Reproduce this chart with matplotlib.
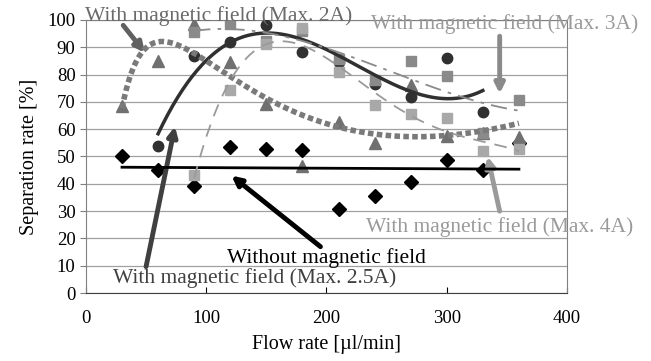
import numpy as np
import matplotlib
matplotlib.use('Agg')
import matplotlib.pyplot as plt

plt.rcParams['font.family'] = ['Liberation Serif', 'DejaVu Serif']

# flow rate [ul/min] and separation rate [%]
x_none = [30, 60, 90, 120, 150, 180, 210, 240, 270, 300, 330, 360]
y_none = [50.0, 45.2, 39.1, 53.5, 52.9, 52.3, 30.9, 35.4, 40.7, 48.6, 45.2, 54.8]

x_2a = [30, 60, 90, 120, 150, 180, 210, 240, 270, 300, 330, 360]
y_2a = [68.5, 84.8, 98.5, 84.4, 69.1, 46.7, 62.5, 55.0, 76.1, 57.5, 58.5, 57.0]

x_25a = [60, 90, 120, 150, 180, 210, 240, 270, 300, 330]
y_25a = [53.8, 86.9, 91.8, 98.3, 88.3, 84.4, 76.7, 71.6, 86.0, 66.4]

x_3a = [90, 120, 150, 180, 210, 240, 270, 300, 330, 360]
y_3a = [95.5, 98.5, 92.4, 96.0, 85.6, 78.0, 85.0, 79.5, 58.7, 70.7]

x_4a = [90, 120, 150, 180, 210, 240, 270, 300, 330, 360]
y_4a = [43.4, 74.3, 91.0, 97.0, 80.8, 68.8, 65.4, 64.2, 52.0, 52.6]


def trend(ax, xs, ys, deg, logx=False, **kw):
    # polynomial trendline over the data range (optionally in log x)
    f = np.log if logx else (lambda v: np.asarray(v, float))
    p = np.poly1d(np.polyfit(f(xs), ys, deg))
    xx = np.linspace(min(xs), max(xs), 200)
    ax.plot(xx, p(f(xx)), zorder=4, **kw)


fig = plt.figure(figsize=(6.51, 3.61), dpi=100)
ax = fig.add_axes([0.132, 0.188, 0.739, 0.757])

ax.plot(x_none, y_none, 'D', color='black', ms=7, zorder=3)
ax.plot(x_2a, y_2a, '^', color='#707070', ms=8.5, zorder=3)
ax.plot(x_25a, y_25a, 'o', color='#303030', ms=7.5, zorder=3)
ax.plot(x_3a, y_3a, 's', color='#8a8a8a', ms=7, zorder=3)
ax.plot(x_4a, y_4a, 's', color='#a8a8a8', ms=7, zorder=3)

trend(ax, x_none, y_none, 1, color='black', lw=2)
trend(ax, x_25a, y_25a, 3, color='#303030', lw=2.5)
trend(ax, x_2a, y_2a, 4, logx=True, color='#7a7a7a', lw=4, ls=(0, (1, 0.6)))
trend(ax, x_3a, y_3a, 3, color='#8a8a8a', lw=1.3, ls=(0, (9, 4, 2, 4)))
trend(ax, x_4a, y_4a, 4, color='#9a9a9a', lw=1.3, ls=(0, (7, 5)))

ax.set_xlim(0, 400)
ax.set_ylim(0, 100)
ax.set_xticks(range(0, 401, 100))
ax.set_yticks(range(0, 101, 10))
ax.yaxis.grid(True, color='#a0a0a0', lw=0.9)
ax.set_axisbelow(True)
for s in ax.spines.values():
    s.set_color('#808080')
ax.spines['bottom'].set_color('#404040')
ax.tick_params(axis='x', direction='in', length=4, labelsize=13.5, pad=12)
ax.tick_params(axis='y', direction='out', length=4, labelsize=13.5, color='#808080')
ax.set_xlabel('Flow rate [\u00b5l/min]', fontsize=14.5, labelpad=6)
ax.set_ylabel('Separation rate [%]', fontsize=14.5, labelpad=6)

arr = dict(arrowstyle='-|>', lw=3.5, mutation_scale=14, shrinkA=0, shrinkB=0)
fs = 15.5
ax.text(-1, 99.6, 'With magnetic field (Max. 2A)', color='#6a6a6a', fontsize=fs, clip_on=False)
ax.annotate('', xy=(49, 88), xytext=(31, 98), arrowprops=dict(arr, color='#606060'))

ax.text(237, 96.7, 'With magnetic field (Max. 3A)', color='#9a9a9a', fontsize=fs, clip_on=False)
ax.annotate('', xy=(344, 73), xytext=(344, 94), arrowprops=dict(arr, color='#8a8a8a'))

ax.text(233, 22.5, 'With magnetic field (Max. 4A)', color='#9a9a9a', fontsize=fs, clip_on=False)
ax.annotate('', xy=(334, 50), xytext=(344, 30), arrowprops=dict(arr, color='#9a9a9a'))

ax.text(117, 10.9, 'Without magnetic field', color='black', fontsize=fs)
ax.annotate('', xy=(121, 43), xytext=(195, 17), arrowprops=dict(arr, color='black'))

ax.text(22.7, 3.6, 'With magnetic field (Max. 2.5A)', color='#404040', fontsize=fs)
ax.annotate('', xy=(74, 61), xytext=(50, 9.7), arrowprops=dict(arr, color='#404040'))

fig.savefig('out.png', dpi=100)
